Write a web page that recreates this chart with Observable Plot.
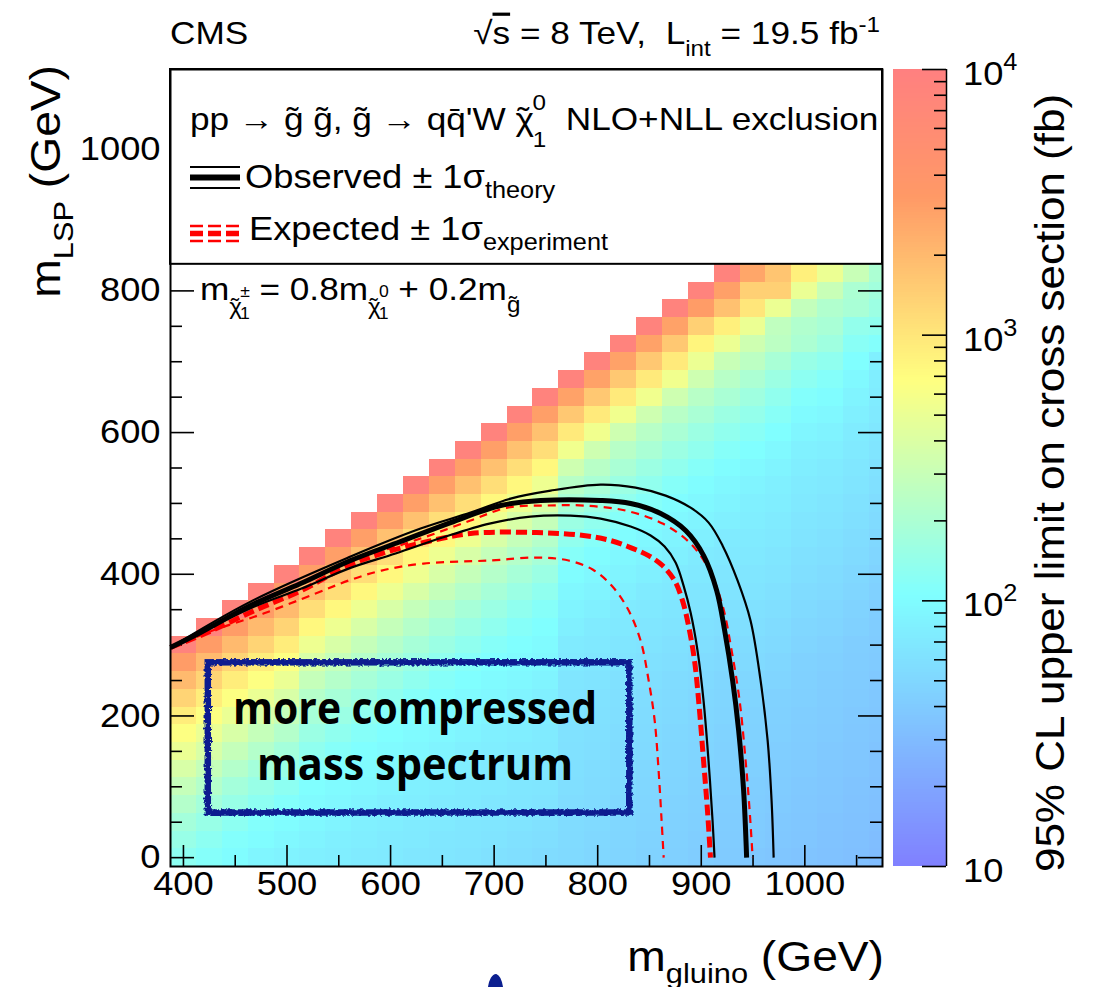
<!DOCTYPE html>
<html>
<head>
<meta charset="utf-8">
<script src="https://cdn.jsdelivr.net/npm/d3@7"></script>
<script src="https://cdn.jsdelivr.net/npm/@observablehq/plot@0.6"></script>
<style>
html,body{margin:0;padding:0;background:#fff;}
#wrap{position:relative;width:1099px;height:987px;overflow:hidden;background:#fff;}
#wrap > svg{position:absolute;top:0;}
</style>
</head>
<body>
<div id="wrap"></div>
<script>
// ---------------- data ----------------
const gluinoMasses = [400,425,450,475,500,525,550,575,600,625,650,675,700,725,750,775,800,825,850,875,900,925,950,975,1000,1025,1050,1075];
const lspMasses = [0,25,50,75,100,125,150,175,200,225,250,275,300,325,350,375,400,425,450,475,500,525,550,575,600,625,650,675,700,725,750,775,800,825];
// log10 of the 95% CL upper limit (fb), one column per gluino mass, from LSP = 0 upward
const log10Limit = [
  [2.1,2.17,2.25,2.35,2.46,2.58,2.7,2.82,2.95,3.12,3.3,3.5,3.95],
  [2.05,2.1,2.17,2.25,2.35,2.46,2.58,2.7,2.82,2.95,3.12,3.3,3.5,3.95],
  [2.0,2.04,2.1,2.17,2.25,2.35,2.46,2.58,2.7,2.82,2.95,3.12,3.3,3.5,3.95],
  [1.95,2.0,2.04,2.1,2.17,2.25,2.35,2.46,2.58,2.7,2.82,2.95,3.12,3.3,3.5,3.95],
  [1.92,1.96,2.0,2.04,2.1,2.17,2.25,2.35,2.46,2.58,2.7,2.82,2.95,3.12,3.3,3.5,3.95],
  [1.9,1.93,1.96,1.99,2.02,2.06,2.12,2.19,2.27,2.36,2.46,2.58,2.72,2.88,3.05,3.25,3.48,3.95],
  [1.88,1.9,1.93,1.96,1.99,2.02,2.06,2.12,2.19,2.27,2.36,2.46,2.58,2.72,2.88,3.05,3.25,3.48,3.95],
  [1.86,1.88,1.9,1.93,1.96,1.99,2.02,2.06,2.12,2.19,2.27,2.36,2.46,2.58,2.72,2.88,3.05,3.25,3.48,3.95],
  [1.85,1.86,1.88,1.9,1.93,1.96,1.99,2.02,2.06,2.12,2.19,2.27,2.36,2.46,2.58,2.72,2.88,3.05,3.25,3.48,3.95],
  [1.83,1.85,1.86,1.88,1.9,1.93,1.96,1.99,2.02,2.06,2.12,2.19,2.27,2.36,2.46,2.58,2.72,2.88,3.05,3.25,3.48,3.95],
  [1.82,1.83,1.85,1.86,1.88,1.9,1.93,1.96,1.99,2.02,2.06,2.12,2.19,2.27,2.36,2.46,2.58,2.72,2.88,3.05,3.25,3.48,3.95],
  [1.8,1.82,1.83,1.85,1.86,1.88,1.9,1.93,1.96,1.99,2.02,2.06,2.12,2.19,2.27,2.36,2.46,2.58,2.72,2.88,3.05,3.25,3.48,3.95],
  [1.78,1.8,1.82,1.83,1.85,1.86,1.88,1.9,1.93,1.96,1.99,2.02,2.06,2.12,2.19,2.27,2.36,2.46,2.58,2.72,2.88,3.05,3.25,3.48,3.95],
  [1.76,1.78,1.8,1.82,1.83,1.85,1.86,1.88,1.9,1.93,1.96,1.99,2.02,2.06,2.12,2.19,2.27,2.36,2.46,2.58,2.72,2.88,3.05,3.25,3.48,3.95],
  [1.74,1.76,1.78,1.8,1.82,1.83,1.85,1.86,1.88,1.9,1.93,1.96,1.99,2.02,2.06,2.12,2.19,2.27,2.36,2.46,2.58,2.72,2.88,3.05,3.25,3.48,3.95],
  [1.72,1.73,1.74,1.75,1.76,1.77,1.78,1.79,1.8,1.81,1.82,1.84,1.86,1.9,1.93,1.96,2.0,2.06,2.13,2.2,2.29,2.38,2.52,2.74,2.97,3.2,3.46,3.95],
  [1.7,1.71,1.72,1.73,1.74,1.75,1.76,1.77,1.78,1.79,1.8,1.82,1.84,1.86,1.9,1.93,1.96,2.0,2.06,2.13,2.2,2.29,2.38,2.52,2.74,2.97,3.2,3.46,3.95],
  [1.68,1.69,1.7,1.71,1.72,1.73,1.74,1.75,1.76,1.77,1.78,1.8,1.82,1.84,1.86,1.9,1.93,1.96,2.0,2.06,2.13,2.2,2.29,2.38,2.52,2.74,2.97,3.2,3.46,3.95],
  [1.66,1.67,1.68,1.69,1.7,1.71,1.72,1.73,1.74,1.75,1.76,1.78,1.8,1.82,1.84,1.86,1.9,1.93,1.96,2.0,2.06,2.13,2.2,2.29,2.38,2.52,2.74,2.97,3.2,3.46,3.95],
  [1.64,1.65,1.66,1.67,1.68,1.69,1.7,1.71,1.72,1.73,1.74,1.76,1.78,1.8,1.82,1.84,1.86,1.9,1.93,1.96,2.0,2.06,2.13,2.2,2.29,2.38,2.52,2.74,2.97,3.2,3.46,3.95],
  [1.62,1.63,1.64,1.65,1.66,1.67,1.68,1.69,1.7,1.71,1.72,1.74,1.76,1.78,1.8,1.82,1.84,1.86,1.9,1.93,1.96,2.0,2.06,2.13,2.2,2.29,2.38,2.52,2.71,2.9,3.15,3.5,3.95],
  [1.6,1.61,1.62,1.63,1.64,1.65,1.66,1.67,1.68,1.69,1.7,1.72,1.74,1.76,1.78,1.8,1.82,1.84,1.86,1.9,1.93,1.96,2.0,2.06,2.13,2.2,2.29,2.38,2.48,2.71,2.93,3.25,3.47,3.95],
  [1.58,1.6,1.61,1.62,1.63,1.64,1.65,1.66,1.67,1.68,1.7,1.72,1.74,1.76,1.78,1.8,1.82,1.84,1.86,1.88,1.9,1.93,1.97,2.02,2.08,2.15,2.22,2.3,2.4,2.52,2.71,3.0,3.15,3.43],
  [1.56,1.58,1.59,1.6,1.61,1.62,1.63,1.64,1.65,1.66,1.68,1.7,1.72,1.74,1.76,1.78,1.8,1.82,1.84,1.86,1.88,1.9,1.93,1.97,2.02,2.07,2.13,2.2,2.28,2.4,2.43,2.71,3.15,3.22],
  [1.55,1.56,1.57,1.58,1.59,1.6,1.61,1.62,1.63,1.64,1.65,1.66,1.68,1.7,1.72,1.74,1.76,1.78,1.8,1.82,1.84,1.86,1.88,1.91,1.95,1.99,2.04,2.1,2.17,2.3,2.33,2.45,2.7,2.93],
  [1.53,1.54,1.55,1.56,1.57,1.58,1.59,1.6,1.61,1.62,1.63,1.64,1.66,1.68,1.7,1.72,1.74,1.76,1.78,1.8,1.82,1.84,1.86,1.89,1.92,1.96,2.0,2.05,2.12,2.22,2.28,2.33,2.48,2.71],
  [1.51,1.52,1.53,1.54,1.55,1.56,1.57,1.58,1.59,1.6,1.61,1.62,1.63,1.65,1.67,1.69,1.71,1.73,1.75,1.77,1.79,1.81,1.83,1.85,1.87,1.9,1.93,1.97,2.02,2.08,2.14,2.28,2.3,2.48],
  [1.49,1.5,1.51,1.52,1.53,1.54,1.55,1.56,1.57,1.58,1.59,1.6,1.61,1.62,1.63,1.65,1.67,1.69,1.71,1.73,1.75,1.77,1.79,1.81,1.83,1.85,1.87,1.88,1.9,2.04,2.12,2.2,2.24,2.3]
];

// exclusion contours, [m_gluino, m_LSP] in GeV
const obsCentral = [[387.5,296.6],[416.5,317.8],[464.8,355.9],[513.1,386.9],[561.4,419.4],[609.7,446.2],[658,473],[706.3,497],[744.9,504.1],[802.8,504.1],[831.8,499.8],[860.8,485.7],[884.9,461.7],[902.3,426.4],[914.9,377],[922.6,320.5],[930.3,250],[936.1,179.4],[940.9,94.7],[943.8,0]];
const obsPlus    = [[387.5,296.6],[464.8,361.4],[561.4,425],[629,464.5],[677.3,487.1],[715.9,506.8],[754.6,518.1],[802.8,526.6],[836.6,522.3],[865.6,511],[889.7,494],[907.1,472.9],[920.6,440.4],[935.1,391],[947.6,334.5],[957.3,249.8],[964.1,165.1],[967.9,80.4],[969.9,0]];
const obsMinus   = [[387.5,296.6],[468.6,354.4],[514,379.8],[559.4,408],[604.8,429.3],[650.2,451.8],[695.5,471.5],[735.1,481.4],[773.7,482.8],[802.8,478.6],[831.8,467.4],[851.1,454.7],[864.6,439.1],[875.2,416.5],[882.9,384],[889.7,345.9],[896.4,292.3],[902.2,221.7],[907,137],[910.9,52.4],[912.8,0]];
const expCentral = [[387.5,296.6],[423.3,317.8],[468.6,348.8],[514,377.1],[559.4,412.4],[591.3,429.3],[631.8,444.8],[677.2,457.5],[740.9,458.9],[786.3,454.7],[812.4,447.6],[831.7,437.7],[849.1,426.4],[862.6,412.3],[874.2,391.1],[881.9,362.8],[887.7,327.5],[893.5,278.1],[898.3,207.5],[902.2,136.9],[906,66.3],[908.9,0]];
const expPlus    = [[387.5,296.6],[468.6,357.3],[559.4,416.5],[631.8,451.8],[677.2,475.8],[712.9,494.1],[749.6,497],[786.3,497],[826.9,489.9],[862.6,471.6],[889.7,443.3],[908,405.2],[920.6,355.8],[929.3,292.3],[937,221.7],[942.8,137],[946.7,66.3],[949.6,0]];
const expMinus   = [[387.5,296.6],[428.1,320.5],[477.3,344.5],[527.6,372.8],[559.4,391.1],[591.3,405.2],[631.8,415.1],[695.6,419.4],[741,423.6],[771.9,419.4],[795.1,406.7],[813.4,384.1],[828.9,351.6],[841.4,306.5],[849.2,250],[855,193.6],[858.8,123],[861.7,52.4],[863.7,0]];

const xTickLabels = [400,500,600,700,800,900,1000];
const xMajorTicks = [400,500,600,700,800,900,1000];
const xMinorTicks = [450,550,650,750,850,950,1050];
const yTickLabels = [0,200,400,600,800,1000];
const yMajorTicks = [0,200,400,600,800];
const yMinorTicks = [50,100,150,250,300,350,450,500,550,650,700,750];
const colorbarLabels = [[10,""],[100,"2"],[1000,"3"],[10000,"4"]];
const colorbarMinor = [20,30,40,50,60,70,80,90,200,300,400,500,600,700,800,900,2000,3000,4000,5000,6000,7000,8000,9000];
const compressedBox = {x1:424, x2:831, y1:63, y2:275};

// ---------------- layout ----------------
const FONT = '"Liberation Sans", Arial, Helvetica, sans-serif';
const SX = 1.1;
const W = 1099, H = 987, mL = 170, mR = 217, mT = 69, mB = 121;
const fW = W - mL - mR, fH = H - mT - mB;
const half = 12.5;
const xDomain = [387.5, 1075], yDomain = [-12.5, 1112.5];
const legendBottom = 837.5;
const BOXBLUE = "#0c1f8f";

const colorOpts = {type: "linear", domain: [1, 2.02, 2.83, 3.52, 4],
  range: ["#8080ff", "#80ffff", "#ffff80", "#ff9966", "#ff8080"], interpolate: d3.interpolateRgb};

const cells = [];
let countProblem = false;
gluinoMasses.forEach((g, i) => {
  const col = log10Limit[i];
  if (col.length !== Math.min(g - 100, 825) / 25 + 1) countProblem = true;
  col.forEach((v, j) => cells.push({g, lsp: lspMasses[j], v}));
});

const lineOpts = (stroke, w, dash) => ({x: d => d[0], y: d => d[1], stroke, strokeWidth: w,
  strokeDasharray: dash, strokeLinejoin: "round", strokeLinecap: "butt", curve: "catmull-rom"});

const main = Plot.plot({
  width: W, height: H, marginLeft: mL, marginRight: mR, marginTop: mT, marginBottom: mB,
  x: {domain: xDomain, axis: null},
  y: {domain: yDomain, axis: null},
  color: colorOpts,
  style: {background: "transparent", fontFamily: FONT},
  marks: [
    Plot.rect(cells, {x1: d => d.g - half, x2: d => Math.min(d.g + half, xDomain[1]),
      y1: d => d.lsp - half, y2: d => d.lsp + half, fill: "v", shapeRendering: "crispEdges"}),
    Plot.tickX(xMajorTicks, {x: d => d, insetTop: fH - 21, stroke: "black", strokeWidth: 1.6}),
    Plot.tickX(xMinorTicks, {x: d => d, insetTop: fH - 11, stroke: "black", strokeWidth: 1.6}),
    Plot.tickY(yMajorTicks, {y: d => d, insetRight: fW - 24, stroke: "black", strokeWidth: 1.6}),
    Plot.tickY(yMinorTicks, {y: d => d, insetRight: fW - 12, stroke: "black", strokeWidth: 1.6}),
    Plot.tickY(yMajorTicks, {y: d => d, insetLeft: fW - 24, stroke: "black", strokeWidth: 1.6}),
    Plot.tickY(yMinorTicks, {y: d => d, insetLeft: fW - 12, stroke: "black", strokeWidth: 1.6}),
    Plot.line(expMinus, lineOpts("#ff0000", 2.2, "8,6")),
    Plot.line(expPlus, lineOpts("#ff0000", 2.2, "8,6")),
    Plot.line(expCentral, lineOpts("#ff0000", 5, "11,5")),
    Plot.line(obsMinus, lineOpts("black", 2.2)),
    Plot.line(obsPlus, lineOpts("black", 2.2)),
    Plot.line(obsCentral, lineOpts("black", 5)),
    Plot.rect([compressedBox], {x1: "x1", x2: "x2", y1: "y1", y2: "y2", fill: "none", stroke: BOXBLUE, strokeWidth: 6.5}),
    Plot.rect([{x1: xDomain[0], x2: xDomain[1], y1: legendBottom, y2: yDomain[1]}],
      {x1: "x1", x2: "x2", y1: "y1", y2: "y2", fill: "white", stroke: "black", strokeWidth: 2}),
    Plot.frame({stroke: "black", strokeWidth: 2}),
    Plot.text(xTickLabels, {x: d => d, frameAnchor: "bottom", dy: 28, text: d => String(d),
      fontSize: 33, fontFamily: FONT, fill: "black"}),
    Plot.text(yTickLabels, {y: d => d, frameAnchor: "left", dx: -10, textAnchor: "end", text: d => String(d),
      fontSize: 33, fontFamily: FONT, fill: "black"})
  ]
});
main.style.left = "0px";

// widen Plot's own texts slightly (the reference font is a bit wider than Arial metrics)
d3.select(main).selectAll("text").each(function () {
  const t = this.getAttribute("transform");
  if (t) this.setAttribute("transform", t + ` scale(${SX},1)`);
  else {
    const x = +this.getAttribute("x") || 0, y = +this.getAttribute("y") || 0;
    this.removeAttribute("x"); this.removeAttribute("y");
    this.setAttribute("transform", `translate(${x},${y}) scale(${SX},1)`);
  }
});

// rough, hand-drawn look for the blue box
const msel = d3.select(main);
const defs = msel.insert("defs", ":first-child");
const filt = defs.append("filter").attr("id", "rough").attr("x", "-5%").attr("y", "-5%").attr("width", "110%").attr("height", "110%");
filt.append("feTurbulence").attr("type", "fractalNoise").attr("baseFrequency", "0.35").attr("numOctaves", 2).attr("seed", 4).attr("result", "n");
filt.append("feDisplacementMap").attr("in", "SourceGraphic").attr("in2", "n").attr("scale", 5).attr("xChannelSelector", "R").attr("yChannelSelector", "G");
main.querySelectorAll(`[stroke="${BOXBLUE}"]`).forEach(el => el.setAttribute("filter", "url(#rough)"));

function rich(parent, x, y, parts, opt = {}) {
  const sx = opt.sx ?? SX;
  const t = parent.append("text")
    .attr("transform", `translate(${x},${y})${opt.rotate ? ` rotate(${opt.rotate})` : ""} scale(${sx},1)`)
    .attr("text-anchor", opt.anchor || "start")
    .attr("font-family", opt.family || FONT)
    .attr("font-size", opt.size || 32)
    .attr("fill", opt.fill || "black")
    .style("white-space", "pre");
  if (opt.weight) t.attr("font-weight", opt.weight);
  if (opt.textLength) t.attr("textLength", opt.textLength).attr("lengthAdjust", "spacingAndGlyphs");
  for (const p of parts) {
    const [s, o = {}] = Array.isArray(p) ? p : [p];
    const ts = t.append("tspan").text(s);
    if (o.size) ts.attr("font-size", o.size);
    if (o.dx) ts.attr("dx", o.dx);
    if (o.dy) ts.attr("dy", o.dy);
    if (o.deco) ts.style("text-decoration", o.deco);
  }
  return t;
}

// header
rich(msel, 170, 44, ["CMS"], {size: 32});
rich(msel, 880, 44, ["\u221A", ["s", {deco: "overline"}], " = 8 TeV,  L", ["int", {size: 22, dy: 12}],
  [" = 19.5 fb", {dy: -12}], ["-1", {size: 22, dy: -12}]], {anchor: "end", size: 32});

// legend
rich(msel, 190, 130, ["pp \u2192 g\u0303 g\u0303, g\u0303 \u2192 qq\u0304'W \u03C7", ["\u02DC", {dx: -15}],
  ["0", {size: 22, dx: 3, dy: -20}], ["1", {size: 22, dx: -12, dy: 37}], ["  NLO+NLL exclusion", {dy: -17}]], {size: 32});
const leg = msel.append("g");
[[167, 2.2], [177.5, 6], [188, 2.2]].forEach(([y, w]) =>
  leg.append("line").attr("x1", 190).attr("x2", 240).attr("y1", y).attr("y2", y).attr("stroke", "black").attr("stroke-width", w));
[[226, 2.5], [233.5, 5.5], [241, 2.5]].forEach(([y, w]) =>
  leg.append("line").attr("x1", 190).attr("x2", 240).attr("y1", y).attr("y2", y).attr("stroke", "#ff0000")
    .attr("stroke-width", w).attr("stroke-dasharray", "13,5"));
rich(msel, 245, 188, ["Observed \u00B1 1\u03C3", ["theory", {size: 23, dy: 10}]], {size: 33});
rich(msel, 249, 240, ["Expected \u00B1 1\u03C3", ["experiment", {size: 23, dy: 10}]], {size: 33});

// mass relation
rich(msel, 200, 300, ["m", ["\u03C7", {size: 22, dy: 14}], ["\u02DC", {size: 22, dx: -10}], ["\u00B1", {size: 16, dx: 1, dy: -17}], ["1", {size: 16, dx: -9, dy: 22}],
  [" = 0.8m", {size: 32, dy: -19}], ["\u03C7", {size: 22, dy: 14}], ["\u02DC", {size: 22, dx: -10}], ["0", {size: 16, dx: 1, dy: -17}], ["1", {size: 16, dx: -9, dy: 22}],
  [" + 0.2m", {size: 32, dy: -19}], ["g\u0303", {size: 22, dy: 12}]], {size: 32});

// axis titles
rich(msel, 884, 971, ["m", ["gluino", {size: 28, dy: 12}], [" (GeV)", {dy: -12}]], {anchor: "end", size: 42});
rich(msel, 60, 65, ["m", ["LSP", {size: 28, dy: 13}], [" (GeV)", {dy: -13}]], {anchor: "end", size: 42, rotate: -90});

// annotation text
rich(msel, 415, 724, ["more compressed"], {anchor: "middle", size: 44, weight: 700, family: '"Open Sans", "Noto Sans", sans-serif', sx: 1, textLength: 364});
rich(msel, 415, 780, ["mass spectrum"], {anchor: "middle", size: 44, weight: 700, family: '"Open Sans", "Noto Sans", sans-serif', sx: 1, textLength: 316});
msel.append("path").attr("d", "M489,987 C490,980 493,975 496,975 C499,976 501,981 502,987 Z").attr("fill", BOXBLUE).attr("stroke", BOXBLUE)
  .attr("stroke-width", 2).attr("stroke-linejoin", "round");

if (countProblem) rich(msel, 10, 980, ["count mismatch"], {size: 14, fill: "red"});

document.getElementById("wrap").appendChild(main);

// ---------------- colour bar ----------------
const cbLeft = 893, cbWidth = 53, cbW = W - cbLeft;
const cbSlices = d3.range(300).map(i => ({y1: 10 ** (1 + 3 * i / 300), y2: 10 ** (1 + 3 * (i + 1) / 300), v: 1 + 3 * (i + 0.5) / 300}));
const cb = Plot.plot({
  width: cbW, height: H, marginLeft: 0, marginRight: cbW - cbWidth, marginTop: mT, marginBottom: mB,
  x: {domain: [0, 1], axis: null},
  y: {type: "log", domain: [10, 10000], axis: null},
  color: colorOpts,
  style: {background: "transparent", fontFamily: FONT, overflow: "visible"},
  marks: [
    Plot.rect(cbSlices, {x1: 0, x2: 1, y1: "y1", y2: "y2", fill: "v", shapeRendering: "crispEdges"}),
    Plot.tickY(colorbarLabels.map(d => d[0]), {y: d => d, insetLeft: cbWidth - 24, stroke: "black", strokeWidth: 1.6}),
    Plot.tickY(colorbarMinor, {y: d => d, insetLeft: cbWidth - 12, stroke: "black", strokeWidth: 1.6}),
    Plot.ruleX([1], {x: d => d, stroke: "black", strokeWidth: 1.5})
  ]
});
cb.style.left = cbLeft + "px";
const cbsel = d3.select(cb);
const ys = cb.scale("y");
const yScale = d3.scaleLog().domain(ys.domain).range(ys.range);
colorbarLabels.forEach(([v, e]) => {
  const parts = ["10"];
  if (e) parts.push([e, {size: 23, dy: -15}]);
  rich(cbsel, 70, yScale(v) + 16, parts, {size: 33});
});
rich(cbsel, 171, 483, ["95% CL upper limit on cross section (fb)"], {anchor: "middle", size: 40, rotate: -90});
document.getElementById("wrap").appendChild(cb);
</script>
</body>
</html>
